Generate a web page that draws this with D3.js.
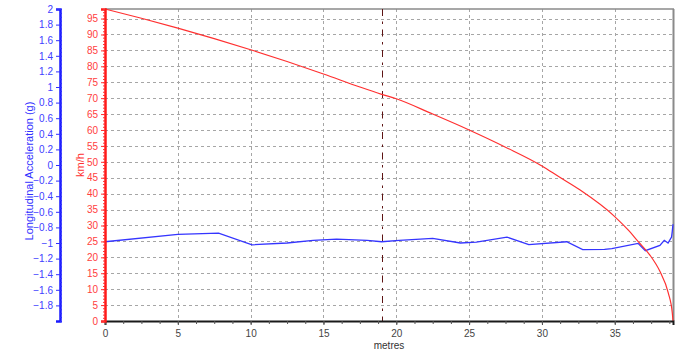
<!DOCTYPE html>
<html lang="en">
<head>
  <meta charset="UTF-8">
  <title>Speed and acceleration vs distance</title>
  <script src="https://d3js.org/d3.v7.min.js"></script>
  <style>
    body { margin: 0; background: #fff; }
    text { font-family: "Liberation Sans", Arial, sans-serif; }
    .grid line { stroke: #a6a6a6; stroke-dasharray: 3, 3; }
  </style>
</head>
<body>
  <div class="chartContainer"></div>
  <script>
    // distance (m) and speed (km/h)
    const speedDist = [0, 2.5, 5, 7.5, 10, 12.5, 15, 17.5, 19, 20, 22.5, 25, 27.5, 30, 31.2, 32.6, 35, 36, 36.6, 37.4, 38.1, 38.67, 38.95, 39]
    const speedVals = [98, 95.1, 92, 88.7, 85.2, 81.5, 77.6, 73.5, 71.2, 69.8, 65, 60, 54.6, 48.7, 45.2, 41.2, 32.8, 28.2, 25, 20.8, 15.6, 8.9, 2.6, 0]

    // distance (m) and longitudinal acceleration (g), blue trace
    const accDist = [0, 5, 7.8, 10.1, 12.5, 14.3, 15.9, 18, 19, 20.2, 22.5, 24.4, 25.5, 27.6, 29.1, 31.7, 32.8, 34.3, 34.8, 36.6, 37.1, 38.1, 38.4, 38.66, 38.9, 38.95, 39]
    const accVals = [-0.984, -0.89, -0.873, -1.023, -1.0, -0.967, -0.95, -0.967, -0.984, -0.967, -0.94, -1.0, -0.99, -0.925, -1.02, -0.984, -1.085, -1.083, -1.072, -1.005, -1.098, -1.03, -0.965, -1.0, -0.925, -0.85, -0.76]

    const speedTicks = d3.range(0, 100, 5)
    const accTicks = d3.range(-1.8, 2.01, 0.2).map(v => +v.toFixed(1))
    const distTicks = [0, 5, 10, 15, 20, 25, 30, 35]
    const cursorAt = 19

    const W = 690, H = 354
    const pLeft = 105, pRight = 673, pTop = 9, pBottom = 321

    const svg = d3.select('.chartContainer')
      .append('svg')
      .attr('width', W)
      .attr('height', H)

    const x = d3.scaleLinear().domain([0, 39]).range([pLeft, pRight])
    const yS = d3.scaleLinear().domain([0, 98]).range([pBottom, pTop])
    const yA = d3.scaleLinear().domain([-2, 2]).range([pBottom, pTop])

    // grid
    svg.append('g').attr('class', 'grid')
      .selectAll('line').data(speedTicks.filter(d => d > 0))
      .join('line')
      .attr('x1', pLeft).attr('x2', pRight)
      .attr('y1', d => Math.round(yS(d)) + 0.5).attr('y2', d => Math.round(yS(d)) + 0.5)
    svg.append('g').attr('class', 'grid')
      .selectAll('line').data(distTicks.filter(d => d > 0))
      .join('line')
      .attr('x1', d => Math.round(x(d)) + 0.5).attr('x2', d => Math.round(x(d)) + 0.5)
      .attr('y1', pTop).attr('y2', pBottom)

    // frame top / right
    svg.append('line').attr('x1', pLeft).attr('x2', pRight + 1).attr('y1', pTop).attr('y2', pTop)
      .attr('stroke', '#8a8a8a').attr('stroke-width', 1.5)
    svg.append('line').attr('x1', pRight + 0.5).attr('x2', pRight + 0.5).attr('y1', pTop).attr('y2', pBottom)
      .attr('stroke', '#8a8a8a').attr('stroke-width', 2)

    // cursor
    svg.append('line')
      .attr('x1', Math.round(x(cursorAt)) + 0.5).attr('x2', Math.round(x(cursorAt)) + 0.5)
      .attr('y1', pTop).attr('y2', pBottom)
      .attr('stroke', '#5e1414').attr('stroke-width', 1)
      .attr('stroke-dasharray', '7,5.5,2.5,5.5')

    // lines
    const speedLine = d3.line().x(d => x(d[0])).y(d => yS(d[1])).curve(d3.curveMonotoneX)
    const accLine = d3.line().x(d => x(d[0])).y(d => yA(d[1]))

    svg.append('path')
      .datum(d3.zip(accDist, accVals))
      .attr('d', accLine)
      .attr('fill', 'none').attr('stroke', '#3535ff').attr('stroke-width', 1.3)

    svg.append('path')
      .datum(d3.zip(speedDist, speedVals))
      .attr('d', speedLine)
      .attr('fill', 'none').attr('stroke', '#ff3030').attr('stroke-width', 1.2)

    // x axis
    const xAxis = svg.append('g').attr('transform', `translate(0,${pBottom})`)
      .call(d3.axisBottom(x).tickValues(distTicks).tickSize(4).tickPadding(5))
    xAxis.select('.domain').attr('stroke', '#1a1a1a').attr('stroke-width', 2)
    xAxis.selectAll('line').attr('stroke', '#444')
    xAxis.selectAll('text').attr('fill', '#444').attr('font-size', 10)
    svg.append('g').attr('transform', `translate(0,${pBottom})`)
      .call(d3.axisBottom(x).tickValues(d3.range(0, 39, 1.25)).tickSize(3).tickFormat(''))
      .call(g => g.select('.domain').remove())
      .selectAll('line').attr('stroke', '#555')

    svg.append('text').attr('x', 389).attr('y', 349)
      .attr('text-anchor', 'middle').attr('font-size', 10).attr('fill', '#333')
      .text('metres')

    // red speed axis
    const sAxis = svg.append('g').attr('transform', `translate(${pLeft},0)`)
      .call(d3.axisLeft(yS).tickValues(speedTicks).tickSize(4).tickPadding(3))
    sAxis.select('.domain').attr('stroke', '#ff1a1a').attr('stroke-width', 2.5)
    sAxis.selectAll('line').attr('stroke', '#ff3030')
    sAxis.selectAll('text').attr('fill', '#ff4040').attr('font-size', 10)
    svg.append('g').attr('transform', `translate(${pLeft},0)`)
      .call(d3.axisLeft(yS).tickValues(d3.range(0, 99, 1)).tickSize(2).tickFormat(''))
      .call(g => g.select('.domain').remove())
      .selectAll('line').attr('stroke', '#ff3030')

    svg.append('text')
      .attr('transform', 'translate(84,165) rotate(-90)')
      .attr('text-anchor', 'middle').attr('font-size', 11).attr('fill', '#ff3030')
      .text('km/h')

    // blue acceleration axis
    const bx = 60
    const aAxis = svg.append('g').attr('transform', `translate(${bx},0)`)
      .call(d3.axisLeft(yA).tickValues(accTicks).tickSize(4).tickPadding(3)
        .tickFormat(d => d3.format('')(d)))
    aAxis.select('.domain').attr('stroke', '#1a1aff').attr('stroke-width', 2.5)
    aAxis.selectAll('line').attr('stroke', '#3030ff')
    aAxis.selectAll('text').attr('fill', '#4040ff').attr('font-size', 10)
    svg.append('g').attr('transform', `translate(${bx},0)`)
      .call(d3.axisRight(yA).tickValues(d3.range(-2, 2.001, 0.05)).tickSize(2).tickFormat(''))
      .call(g => g.select('.domain').remove())
      .selectAll('line').attr('stroke', '#3030ff')

    svg.append('text')
      .attr('transform', 'translate(33,171) rotate(-90)')
      .attr('text-anchor', 'middle').attr('font-size', 11).attr('fill', '#3030ff')
      .text('Longitudinal Acceleration (g)')
  </script>
</body>
</html>
